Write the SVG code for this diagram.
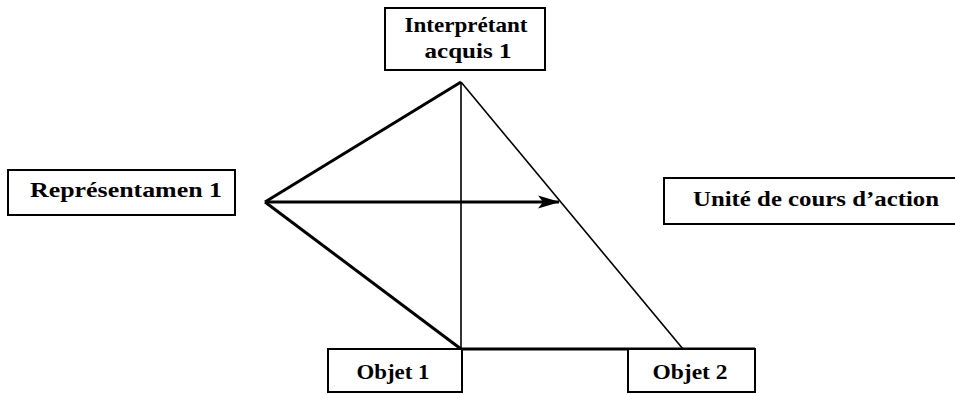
<svg xmlns="http://www.w3.org/2000/svg" width="955" height="395" viewBox="0 0 955 395">
<style>
.box{fill:#fff;stroke:#000;stroke-width:2}
.t{font-family:"Liberation Serif",serif;font-weight:bold;font-size:22px;fill:#000;text-anchor:middle}
.thick{stroke:#000;stroke-width:3;fill:none}
.thin{stroke:#000;stroke-width:1.6;fill:none}
</style>
<defs>
<marker id="ah" markerWidth="22" markerHeight="14" refX="21" refY="7" orient="auto" markerUnits="userSpaceOnUse">
<path d="M0,0.5 L22,7 L0,13.5 L5,7 Z" fill="#000"/>
</marker>
</defs>
<rect width="955" height="395" fill="#fff"/>
<g id="connectors">
<line class="thick" x1="461" y1="82" x2="265" y2="202"/>
<line class="thick" x1="265" y1="202" x2="461" y2="349"/>
<line class="thin" x1="461" y1="82" x2="461" y2="349"/>
<line class="thin" x1="461" y1="82" x2="683" y2="349"/>
<line class="thick" x1="461" y1="349" x2="755" y2="349"/>
<line class="thick" x1="265" y1="202" x2="559" y2="202" marker-end="url(#ah)"/>
</g>
<g id="interpretant">
<rect class="box" x="385" y="8" width="160" height="62"/>
<text class="t" x="466" y="32" textLength="123" lengthAdjust="spacingAndGlyphs">Interprétant</text>
<text class="t" x="468" y="58" textLength="87" lengthAdjust="spacingAndGlyphs">acquis 1</text>
</g>
<g id="representamen">
<rect class="box" x="8" y="170" width="227" height="45"/>
<text class="t" x="126" y="197" textLength="192" lengthAdjust="spacingAndGlyphs">Représentamen 1</text>
</g>
<g id="unite">
<rect class="box" x="664" y="178" width="300" height="46"/>
<text class="t" x="816" y="206" textLength="246" lengthAdjust="spacingAndGlyphs">Unité de cours d’action</text>
</g>
<g id="objet1">
<rect class="box" x="328" y="349" width="134" height="43"/>
<text class="t" x="393" y="379" textLength="73" lengthAdjust="spacingAndGlyphs">Objet 1</text>
</g>
<g id="objet2">
<rect class="box" x="628" y="349" width="127" height="43"/>
<text class="t" x="690" y="379" textLength="75" lengthAdjust="spacingAndGlyphs">Objet 2</text>
</g>
</svg>
